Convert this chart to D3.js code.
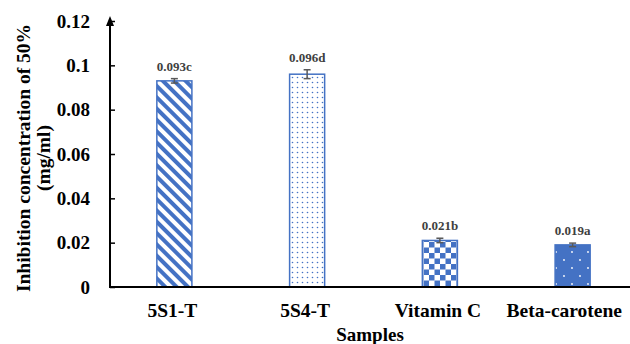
<!DOCTYPE html>
<html>
<head>
<meta charset="utf-8">
<script src="https://cdn.jsdelivr.net/npm/d3@7"></script>
<style>
  body { margin: 0; background: #fff; }
  text { font-family: "Liberation Serif", "Times New Roman", serif; font-weight: bold; }
</style>
</head>
<body>
<svg></svg>
<script>
const width = 630;
const height = 344;

const categories = ['5S1-T', '5S4-T', 'Vitamin C', 'Beta-carotene'];
const values = [0.093, 0.096, 0.021, 0.019];
const errors = [0.001, 0.002, 0.001, 0.0008];
const labels = ['0.093c', '0.096d', '0.021b', '0.019a'];
const fills = ['stripes', 'dots', 'checker', 'bluedots'];
const yTicks = [0, 0.02, 0.04, 0.06, 0.08, 0.1, 0.12];

const blue = '#4472c4';

const svg = d3.select('svg')
    .attr('width', width).attr('height', height);

const x = d3.scaleBand()
    .domain(categories)
    .range([108, 639])
    .paddingInner(0.736)
    .paddingOuter(0.368);
const y = d3.scaleLinear()
    .domain([0, 0.12])
    .range([287, 21]);

// fill patterns
const defs = svg.append('defs');

const stripes = defs.append('pattern')
    .attr('id', 'stripes')
    .attr('patternUnits', 'userSpaceOnUse')
    .attr('width', 8).attr('height', 8)
    .attr('patternTransform', 'rotate(-45)');
stripes.append('rect').attr('width', 8).attr('height', 8).attr('fill', '#fff');
stripes.append('rect').attr('width', 4).attr('height', 8).attr('fill', blue);

const dots = defs.append('pattern')
    .attr('id', 'dots')
    .attr('patternUnits', 'userSpaceOnUse')
    .attr('width', 5).attr('height', 5);
dots.append('rect').attr('width', 5).attr('height', 5).attr('fill', '#fff');
dots.append('circle').attr('cx', 2.5).attr('cy', 2.5).attr('r', 0.8).attr('fill', blue);

const checker = defs.append('pattern')
    .attr('id', 'checker')
    .attr('patternUnits', 'userSpaceOnUse')
    .attr('width', 11).attr('height', 11);
checker.append('rect').attr('width', 11).attr('height', 11).attr('fill', '#fff');
checker.append('rect').attr('width', 5.5).attr('height', 5.5).attr('fill', blue);
checker.append('rect').attr('x', 5.5).attr('y', 5.5).attr('width', 5.5).attr('height', 5.5).attr('fill', blue);

const bluedots = defs.append('pattern')
    .attr('id', 'bluedots')
    .attr('patternUnits', 'userSpaceOnUse')
    .attr('width', 16).attr('height', 16);
bluedots.append('rect').attr('width', 16).attr('height', 16).attr('fill', blue);
bluedots.append('circle').attr('cx', 4).attr('cy', 4).attr('r', 0.9).attr('fill', '#fff');
bluedots.append('circle').attr('cx', 12).attr('cy', 12).attr('r', 0.9).attr('fill', '#fff');

// bars
svg.selectAll('.bar')
    .data(categories)
    .enter().append('rect')
    .attr('class', 'bar')
    .attr('x', d => x(d))
    .attr('y', (d, i) => y(values[i]))
    .attr('width', x.bandwidth())
    .attr('height', (d, i) => y(0) - y(values[i]))
    .attr('fill', (d, i) => `url(#${fills[i]})`)
    .attr('stroke', blue)
    .attr('stroke-width', 1.5);

// error bars
const err = svg.selectAll('.err')
    .data(categories)
    .enter().append('g')
    .attr('class', 'err')
    .attr('stroke', '#595959')
    .attr('stroke-width', 1.5);
err.append('line')
    .attr('x1', d => x(d) + x.bandwidth() / 2)
    .attr('x2', d => x(d) + x.bandwidth() / 2)
    .attr('y1', (d, i) => y(values[i] - errors[i]))
    .attr('y2', (d, i) => y(values[i] + errors[i]));
[1, -1].forEach(s => {
    err.append('line')
        .attr('x1', d => x(d) + x.bandwidth() / 2 - 3.5)
        .attr('x2', d => x(d) + x.bandwidth() / 2 + 3.5)
        .attr('y1', (d, i) => y(values[i] + s * errors[i]))
        .attr('y2', (d, i) => y(values[i] + s * errors[i]));
});

// value labels
svg.selectAll('.vlabel')
    .data(categories)
    .enter().append('text')
    .attr('class', 'vlabel')
    .attr('x', d => x(d) + x.bandwidth() / 2)
    .attr('y', (d, i) => y(values[i] + errors[i]) - 8)
    .attr('text-anchor', 'middle')
    .attr('font-size', 13)
    .attr('fill', '#404040')
    .text((d, i) => labels[i]);

// y axis
const yAxis = svg.append('g')
    .attr('transform', `translate(${x.range()[0] + 2},0)`)
    .call(d3.axisRight(y).tickValues(yTicks).tickSize(5).tickFormat(() => ''));
yAxis.select('.domain').remove();
yAxis.selectAll('line').attr('stroke', '#000').attr('stroke-width', 1.5);

svg.selectAll('.ylabel')
    .data(yTicks)
    .enter().append('text')
    .attr('class', 'ylabel')
    .attr('x', 90)
    .attr('y', d => y(d) + 6.5)
    .attr('text-anchor', 'end')
    .attr('font-size', 19)
    .attr('fill', '#000')
    .text(d => d3.format('~g')(d));

svg.append('line')
    .attr('x1', 110).attr('x2', 110)
    .attr('y1', y(0) + 1).attr('y2', 24)
    .attr('stroke', '#000').attr('stroke-width', 2);
svg.append('path')
    .attr('d', 'M110,16 L106,26 L114,26 Z')
    .attr('fill', '#000');

// x axis
svg.append('line')
    .attr('x1', 109).attr('x2', width)
    .attr('y1', y(0)).attr('y2', y(0))
    .attr('stroke', '#000').attr('stroke-width', 2);

// category labels, kept inside the window like the original
svg.selectAll('.xlabel')
    .data(categories)
    .enter().append('text')
    .attr('class', 'xlabel')
    .attr('y', 317)
    .attr('text-anchor', 'middle')
    .attr('font-size', 19.5)
    .attr('fill', '#000')
    .text(d => d)
    .attr('x', function (d) {
        const half = this.getComputedTextLength() / 2;
        return Math.min(x(d) + x.bandwidth() / 2 - 2, width - 8 - half);
    });

svg.append('text')
    .attr('x', 370).attr('y', 341)
    .attr('text-anchor', 'middle')
    .attr('font-size', 19)
    .text('Samples');

const yTitle = svg.append('text')
    .attr('transform', 'translate(0,158) rotate(-90)')
    .attr('text-anchor', 'middle')
    .attr('font-size', 19.5);
yTitle.append('tspan').attr('x', 0).attr('y', 30).text('Inhibition concentration of 50%');
yTitle.append('tspan').attr('x', 0).attr('y', 50).text('(mg/ml)');
</script>
</body>
</html>
